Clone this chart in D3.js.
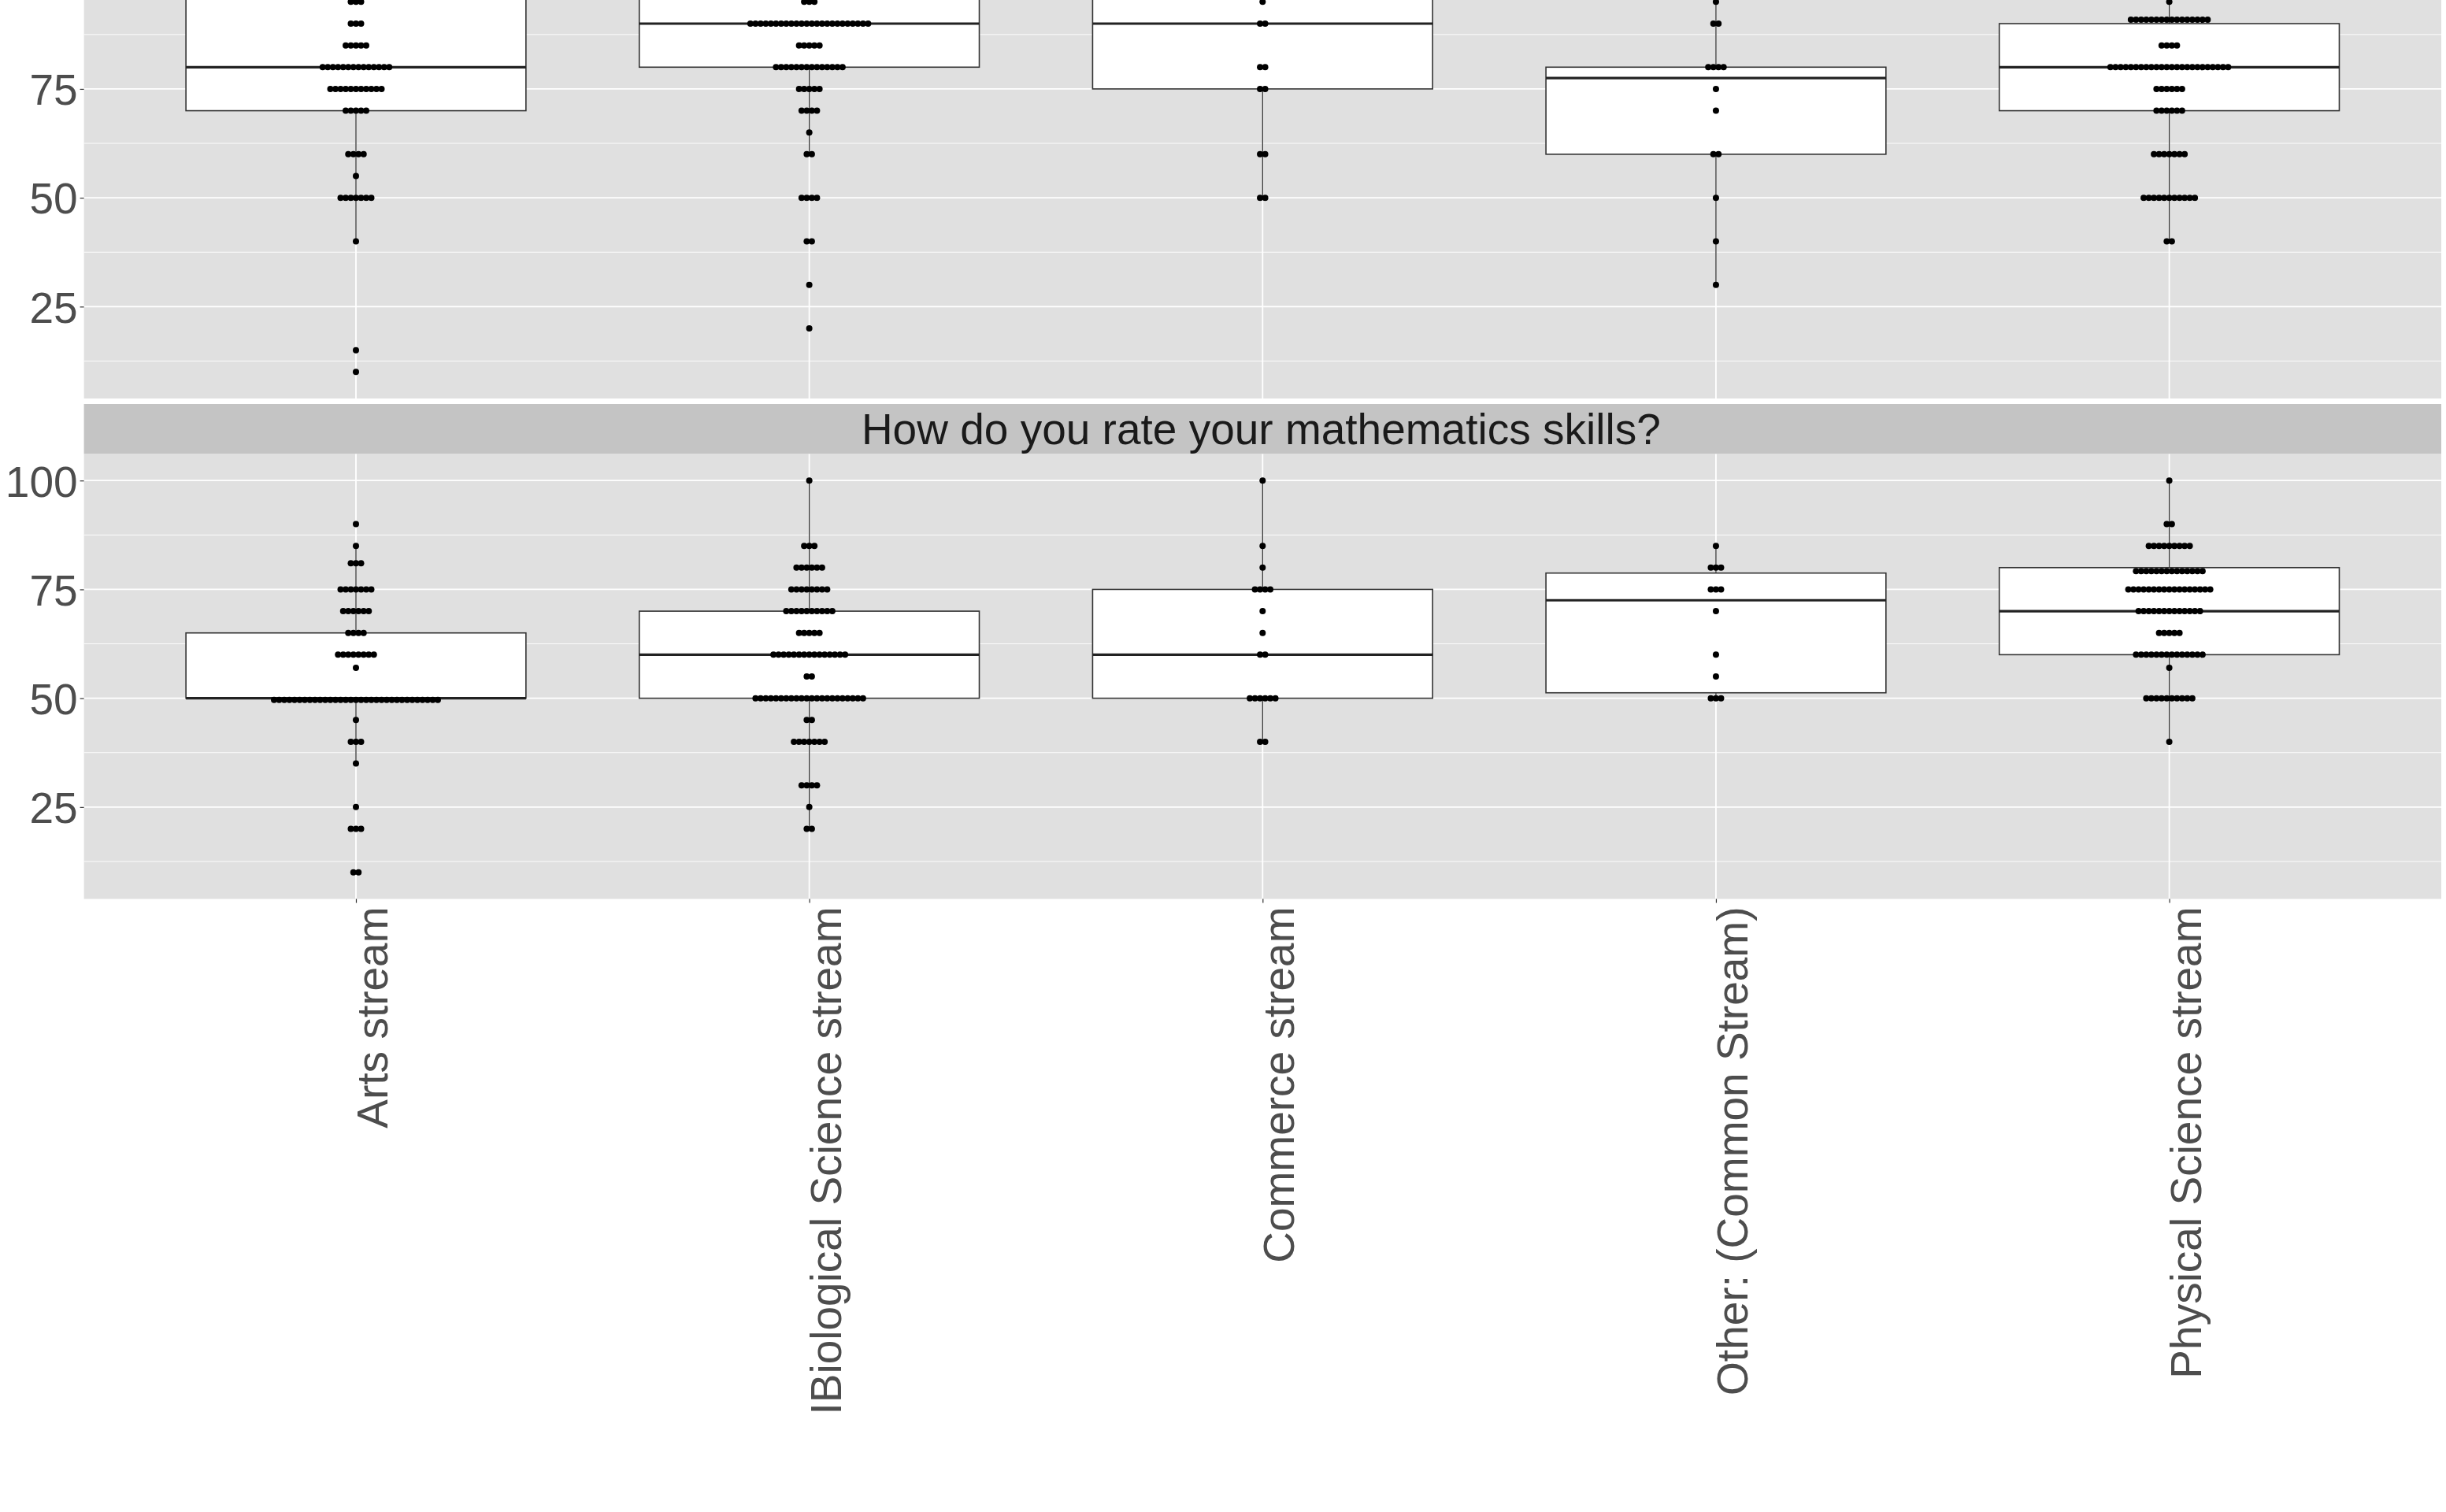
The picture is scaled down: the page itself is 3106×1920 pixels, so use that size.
<!DOCTYPE html>
<html>
<head>
<meta charset="utf-8">
<script src="https://cdn.jsdelivr.net/npm/d3@7"></script>
<style>
  body { margin: 0; background: #ffffff; }
  svg { display: block; }
</style>
</head>
<body>
<svg id="chart" width="3106" height="1920"></svg>
<script>
// ---------------- DATA ----------------
const categories = [
  "Arts stream",
  "IBiological Science stream",
  "Commerce stream",
  "Other: (Common Stream)",
  "Physical Science stream"
];
const stripTitleBottom = "How do you rate your mathematics skills?";
const yTickValues = [25, 50, 75, 100];
const yMinorValues = [12.5, 37.5, 62.5, 87.5];

// dot rows: [value, number of dots]  (upper panel, its top is cut off)
const topArts     = [[95,3],[90,3],[85,5],[80,14],[75,11],[70,5],[60,4],[55,1],[50,7],[40,1],[15,1],[10,1]];
const topBio      = [[95,3],[90,24],[85,5],[80,14],[75,5],[70,4],[65,1],[60,2],[50,4],[40,2],[30,1],[20,1]];
const topCommerce = [[95,1],[90,2],[80,2],[75,2],[60,2],[50,2]];
const topOther    = [[95,1],[90,2],[80,4],[75,1],[70,1],[60,2],[50,1],[40,1],[30,1]];
const topPhysical = [[95,1],[90.9,16],[85,4],[80,24],[75,6],[70,6],[60,7],[50,11],[40,2]];

// lower panel: "How do you rate your mathematics skills?"
const botArts     = [[90,1],[85,1],[81,3],[75,7],[70,6],[65,4],[60,8],[57,1],[49.6,33],[45,1],[40,3],[35,1],[25,1],[20,3],[10,2]];
const botBio      = [[100,1],[85,3],[80,6],[75,8],[70,10],[65,5],[60,15],[55,2],[50,22],[45,2],[40,7],[30,4],[25,1],[20,2]];
const botCommerce = [[100,1],[85,1],[80,1],[75,4],[70,1],[65,1],[60,2],[50,6],[40,2]];
const botOther    = [[85,1],[80,3],[75,3],[70,1],[60,1],[55,1],[50,3]];
const botPhysical = [[100,1],[90,2],[85,9],[79.2,14],[75,17],[70,13],[65,5],[60,14],[57,1],[50,10],[40,1]];

// box statistics per category
const topQ1      = [70, 80, 75, 60, 70];
const topMedian  = [80, 90, 90, 77.5, 80];
const topQ3      = [100, 97.5, 100, 80, 90];
const topWhiskLo = [40, 60, 50, 30, 40];
const topWhiskHi = [100, 100, 100, 100, 100];

const botQ1      = [50, 50, 50, 51.25, 60];
const botMedian  = [50, 60, 60, 72.5, 70];
const botQ3      = [65, 70, 75, 78.75, 80];
const botWhiskLo = [35, 20, 40, 50, 40];
const botWhiskHi = [85, 100, 100, 85, 100];

// ---------------- LAYOUT ----------------
const svg = d3.select("#chart");
const W = 3106, H = 1920;
svg.append("rect").attr("width", W).attr("height", H).attr("fill", "#ffffff");

const panelLeft = 106.6, panelRight = 3100;
const panelH = 565;
const stripH = 63.5, gap = 7;
const botTop = 576.5, botBottom = botTop + panelH;
const topBottom = botTop - stripH - gap, topTop = topBottom - panelH;
const yDomain = [3.9, 106.1];

const PANEL_BG = "#e0e0e0", STRIP_BG = "#c4c4c4";
const AXIS_TEXT = "#4d4d4d", STRIP_TEXT = "#1a1a1a";
const FONT = "'Liberation Sans', Arial, Helvetica, sans-serif";
const FS = 55;
const dotD = 8, dotStep = 6.5;

const x = d3.scalePoint().domain(categories).range([panelLeft, panelRight]).padding(0.6);
const boxW = 0.75 * x.step();

function drawPanel(y0, y1, dots, q1, med, q3, wlo, whi) {
  const y = d3.scaleLinear().domain(yDomain).range([y1, y0]);
  const g = svg.append("g");
  g.append("rect").attr("x", panelLeft).attr("y", y0)
    .attr("width", panelRight - panelLeft).attr("height", y1 - y0).attr("fill", PANEL_BG);
  // minor grid
  g.selectAll(".ymin").data(yMinorValues).enter().append("line")
    .attr("x1", panelLeft).attr("x2", panelRight)
    .attr("y1", d => y(d)).attr("y2", d => y(d))
    .attr("stroke", "#ffffff").attr("stroke-width", 0.9);
  // major grid
  g.selectAll(".ymaj").data(yTickValues).enter().append("line")
    .attr("x1", panelLeft).attr("x2", panelRight)
    .attr("y1", d => y(d)).attr("y2", d => y(d))
    .attr("stroke", "#ffffff").attr("stroke-width", 1.8);
  g.selectAll(".xmaj").data(categories).enter().append("line")
    .attr("x1", d => x(d)).attr("x2", d => x(d))
    .attr("y1", y0).attr("y2", y1)
    .attr("stroke", "#ffffff").attr("stroke-width", 1.8);

  const clipId = "clip" + Math.round(y0 + 100);
  svg.append("clipPath").attr("id", clipId).append("rect")
    .attr("x", panelLeft).attr("y", y0).attr("width", panelRight - panelLeft).attr("height", y1 - y0);
  const gc = g.append("g").attr("clip-path", `url(#${clipId})`);

  categories.forEach((c, i) => {
    const cx = x(c);
    // whiskers
    gc.append("line").attr("x1", cx).attr("x2", cx)
      .attr("y1", y(q3[i])).attr("y2", y(whi[i]))
      .attr("stroke", "#333333").attr("stroke-width", 1.3);
    gc.append("line").attr("x1", cx).attr("x2", cx)
      .attr("y1", y(q1[i])).attr("y2", y(wlo[i]))
      .attr("stroke", "#333333").attr("stroke-width", 1.3);
    // box
    gc.append("rect").attr("x", cx - boxW / 2).attr("y", y(q3[i]))
      .attr("width", boxW).attr("height", y(q1[i]) - y(q3[i]))
      .attr("fill", "#ffffff").attr("stroke", "#333333").attr("stroke-width", 1.6);
    gc.append("line").attr("x1", cx - boxW / 2).attr("x2", cx + boxW / 2)
      .attr("y1", y(med[i])).attr("y2", y(med[i]))
      .attr("stroke", "#222222").attr("stroke-width", 3.2);
    // dots (centered stacks)
    const pts = [];
    dots[i].forEach(([v, n]) => {
      for (let k = 0; k < n; k++) pts.push({ v: v, off: (k - (n - 1) / 2) * dotStep });
    });
    gc.selectAll(null).data(pts).enter().append("circle")
      .attr("cx", d => cx + d.off).attr("cy", d => y(d.v))
      .attr("r", dotD / 2).attr("fill", "#000000");
  });

  // y axis (only ticks whose label lies inside the page)
  const visibleTicks = yTickValues.filter(v => y(v) - 0.4 * FS >= 0);
  const ax = g.append("g").attr("transform", `translate(${panelLeft},0)`)
    .call(d3.axisLeft(y).tickValues(visibleTicks).tickSize(5).tickPadding(3).tickFormat(d3.format("d")));
  ax.select(".domain").remove();
  ax.selectAll(".tick line").attr("stroke", "#333333").attr("stroke-width", 1.2);
  ax.selectAll(".tick text").attr("font-family", FONT).attr("font-size", FS)
    .attr("fill", AXIS_TEXT).attr("dy", "0.36em");
  return y;
}

drawPanel(topTop, topBottom,
  [topArts, topBio, topCommerce, topOther, topPhysical],
  topQ1, topMedian, topQ3, topWhiskLo, topWhiskHi);

// strip of lower panel
svg.append("rect").attr("x", panelLeft).attr("y", botTop - stripH)
  .attr("width", panelRight - panelLeft).attr("height", stripH).attr("fill", STRIP_BG);
svg.append("text").attr("x", (panelLeft + panelRight) / 2 - 2).attr("y", botTop - stripH / 2 + 0.358 * FS)
  .attr("text-anchor", "middle").attr("font-family", FONT).attr("font-size", FS)
  .attr("fill", STRIP_TEXT).text(stripTitleBottom);

drawPanel(botTop, botBottom,
  [botArts, botBio, botCommerce, botOther, botPhysical],
  botQ1, botMedian, botQ3, botWhiskLo, botWhiskHi);

// x axis
const xa = svg.append("g").attr("transform", `translate(0,${botBottom})`)
  .call(d3.axisBottom(x).tickSize(5).tickPadding(0));
xa.select(".domain").remove();
xa.selectAll(".tick line").attr("stroke", "#333333").attr("stroke-width", 1.2);
xa.selectAll(".tick text")
  .attr("font-family", FONT).attr("font-size", FS).attr("fill", AXIS_TEXT)
  .attr("text-anchor", "end").attr("dy", null).attr("y", 0)
  .attr("transform", `translate(${0.72 * FS},10) rotate(-90)`);
</script>
</body>
</html>
